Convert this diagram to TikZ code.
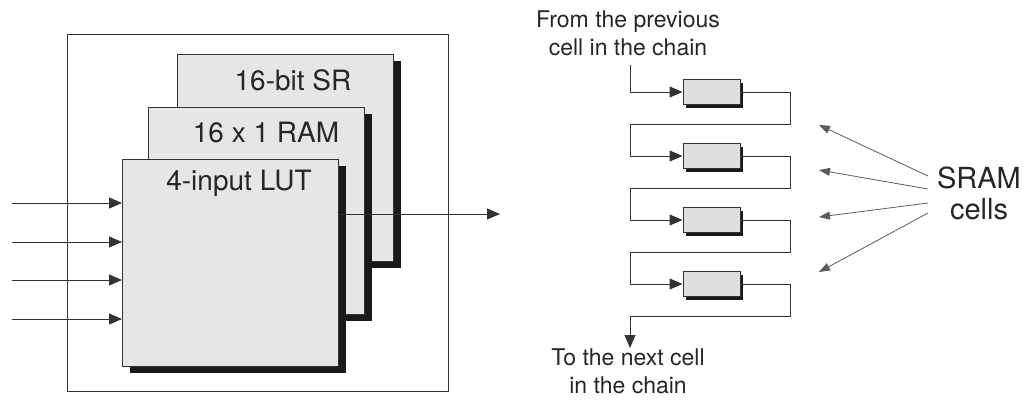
\documentclass[tikz,border=0pt]{standalone}
\usepackage{fontspec}
\setmainfont{TeX Gyre Heros}
\usetikzlibrary{arrows.meta,shadows}
\definecolor{ln}{HTML}{333333}
\definecolor{boxfill}{HTML}{E6E6E6}
\definecolor{cellfill}{HTML}{DEDEDE}
\begin{document}
\begin{tikzpicture}[x=1pt,y=-1pt,
  bigbox/.style={draw=ln, line width=1pt, fill=boxfill, minimum width=216pt, minimum height=207pt, anchor=north west, inner sep=0pt, general shadow={fill=black!90, shadow xshift=7pt, shadow yshift=-6pt}},
  cellbox/.style={draw=ln, line width=1pt, fill=cellfill, minimum width=57pt, minimum height=25pt, inner sep=0pt, general shadow={fill=black!90, shadow xshift=3pt, shadow yshift=-3pt}},
  wire/.style={draw=ln, line width=1pt},
  arr/.style={wire, -{Triangle[length=13pt,width=11pt]}},
  thinarr/.style={draw=ln!80, line width=0.8pt, -{Triangle[length=11pt,width=8pt]}},
  biglabel/.style={font=\fontsize{28}{30}\selectfont, text=black!85, inner sep=0pt},
  txt/.style={font=\fontsize{23}{28}\selectfont, text=black!85, align=center, inner sep=0pt},
]
\useasboundingbox (0,0) rectangle (1025,405);
% outer frame
\node[draw=ln, line width=1.2pt, minimum width=381pt, minimum height=357pt, anchor=north west, inner sep=0pt] (outer) at (67,34) {};
% stacked boxes
\node[bigbox] (sr) at (177,54) {};
\node[biglabel] (lsr) at (293,80) {16-bit SR};
\node[bigbox] (ram) at (148,107) {};
\node[biglabel] (lram) at (266,132) {16 x 1 RAM};
\node[bigbox] (lut) at (122,159) {};
\node[biglabel] (llut) at (239,183) {4-input LUT};
% inputs
\coordinate (in1) at (12,203);
\coordinate (in2) at (12,242);
\coordinate (in3) at (12,280);
\coordinate (in4) at (12,319);
\foreach \i in {1,2,3,4} \draw[arr] (in\i) -- (in\i -| lut.west);
% output
\coordinate (out) at (500,214);
\draw[arr] (lut.east |- out) -- (out);
% chain
\node[cellbox] (c1) at (711.5,92) {};
\node[cellbox] (c2) at (711.5,156) {};
\node[cellbox] (c3) at (711.5,220) {};
\node[cellbox] (c4) at (711.5,284) {};
\coordinate (top) at (630,65);
\draw[arr] (top) |- (c1.west);
\coordinate (r1) at (790,124); \coordinate (l1) at (630,124);
\coordinate (r2) at (790,188); \coordinate (l2) at (630,188);
\coordinate (r3) at (790,252); \coordinate (l3) at (630,252);
\coordinate (r4) at (790,316); \coordinate (l4) at (630,316);
\draw[arr] (c1.east) -| (r1) -- (l1) |- (c2.west);
\draw[arr] (c2.east) -| (r2) -- (l2) |- (c3.west);
\draw[arr] (c3.east) -| (r3) -- (l3) |- (c4.west);
\coordinate (bot) at (630,348);
\draw[arr] (c4.east) -| (r4) -- (l4) -- (bot);
\node[txt] (from) at (628,33) {From the previous\\cell in the chain};
\node[txt] (to) at (628,371) {To the next cell\\in the chain};
% SRAM cells
\node[font=\fontsize{29}{31}\selectfont, text=black!85, align=center, inner sep=0pt] (sram) at (979,193) {SRAM\\cells};
\coordinate (s1) at (928,176); \coordinate (t1) at (819,125);
\coordinate (s2) at (928,189); \coordinate (t2) at (819,170);
\coordinate (s3) at (928,203); \coordinate (t3) at (819,217);
\coordinate (s4) at (928,213); \coordinate (t4) at (819,272);
\foreach \i in {1,2,3,4} \draw[thinarr] (s\i) -- (t\i);
\end{tikzpicture}
\end{document}
